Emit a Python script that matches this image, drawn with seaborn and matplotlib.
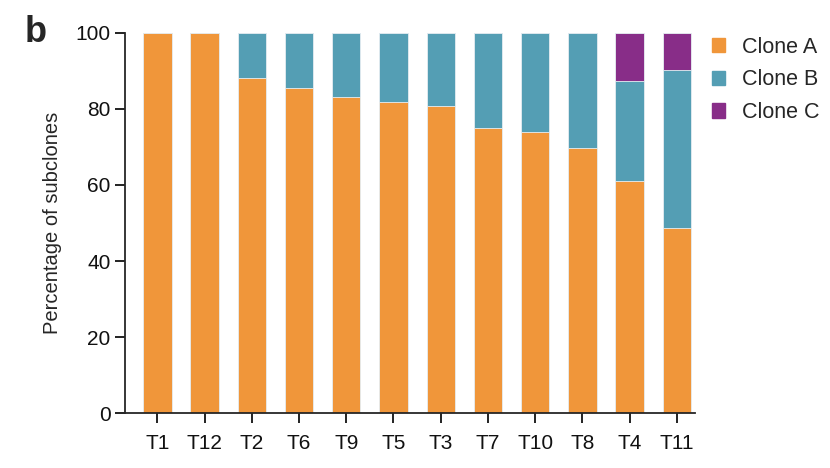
import seaborn as sns
import matplotlib.pyplot as plt
import pandas as pd
from matplotlib.patches import Patch

# Datos
muestras = ['T1', 'T12', 'T2', 'T6', 'T9', 'T5', 'T3', 'T7', 'T10', 'T8', 'T4', 'T11']
clon_a = [100, 100, 88.0, 85.5, 83.0, 81.9, 80.7, 75.1, 73.8, 69.7, 61.0, 48.6]
clon_b = [0, 0, 12.0, 14.5, 17.0, 18.1, 19.3, 24.9, 26.2, 30.3, 26.4, 41.6]
clon_c = [0, 0, 0, 0, 0, 0, 0, 0, 0, 0, 12.6, 9.8]

colores = {'Clone A': '#F0963A', 'Clone B': '#549EB4', 'Clone C': '#882D88'}

datos = pd.DataFrame({'muestra': muestras, 'A': clon_a, 'B': clon_b, 'C': clon_c})
datos['AB'] = datos['A'] + datos['B']
datos['ABC'] = datos['AB'] + datos['C']

sns.set_style('ticks')
plt.rcParams['font.family'] = ['Liberation Sans', 'DejaVu Sans']

fig, ax = plt.subplots(figsize=(8.3, 4.68), dpi=100)
fig.subplots_adjust(left=0.151, right=0.837, top=0.93, bottom=0.117)

# barras apiladas: primero la suma total, luego encima las partes
for col, clon in [('ABC', 'Clone C'), ('AB', 'Clone B'), ('A', 'Clone A')]:
    sns.barplot(data=datos, x='muestra', y=col, color=colores[clon], width=0.6,
                saturation=1, ax=ax, order=muestras, edgecolor='#e8f0f4', linewidth=0.6)

ax.set_ylim(0, 100)
ax.set_xlim(-0.68, 11.38)
ax.set_yticks([0, 20, 40, 60, 80, 100])
ax.set_xlabel('')
ax.set_ylabel('Percentage of subclones', fontsize=14.5, labelpad=10)
ax.tick_params(axis='both', labelsize=15, length=7, width=1.3, colors='#111111')
ax.tick_params(axis='x', pad=8)
for s in ['left', 'bottom']:
    ax.spines[s].set_linewidth(1.3)
sns.despine(ax=ax)

handles = [Patch(color=c, label=k) for k, c in colores.items()]
fig.legend(handles=handles, loc='upper left', bbox_to_anchor=(0.858, 0.922), frameon=False,
           fontsize=15.5, handlelength=0.6, handleheight=0.65, handletextpad=0.8,
           labelspacing=0.55, borderpad=0, borderaxespad=0)

fig.text(0.03, 0.91, 'b', fontsize=26, fontweight='bold')

plt.savefig('out.png', dpi=100)
